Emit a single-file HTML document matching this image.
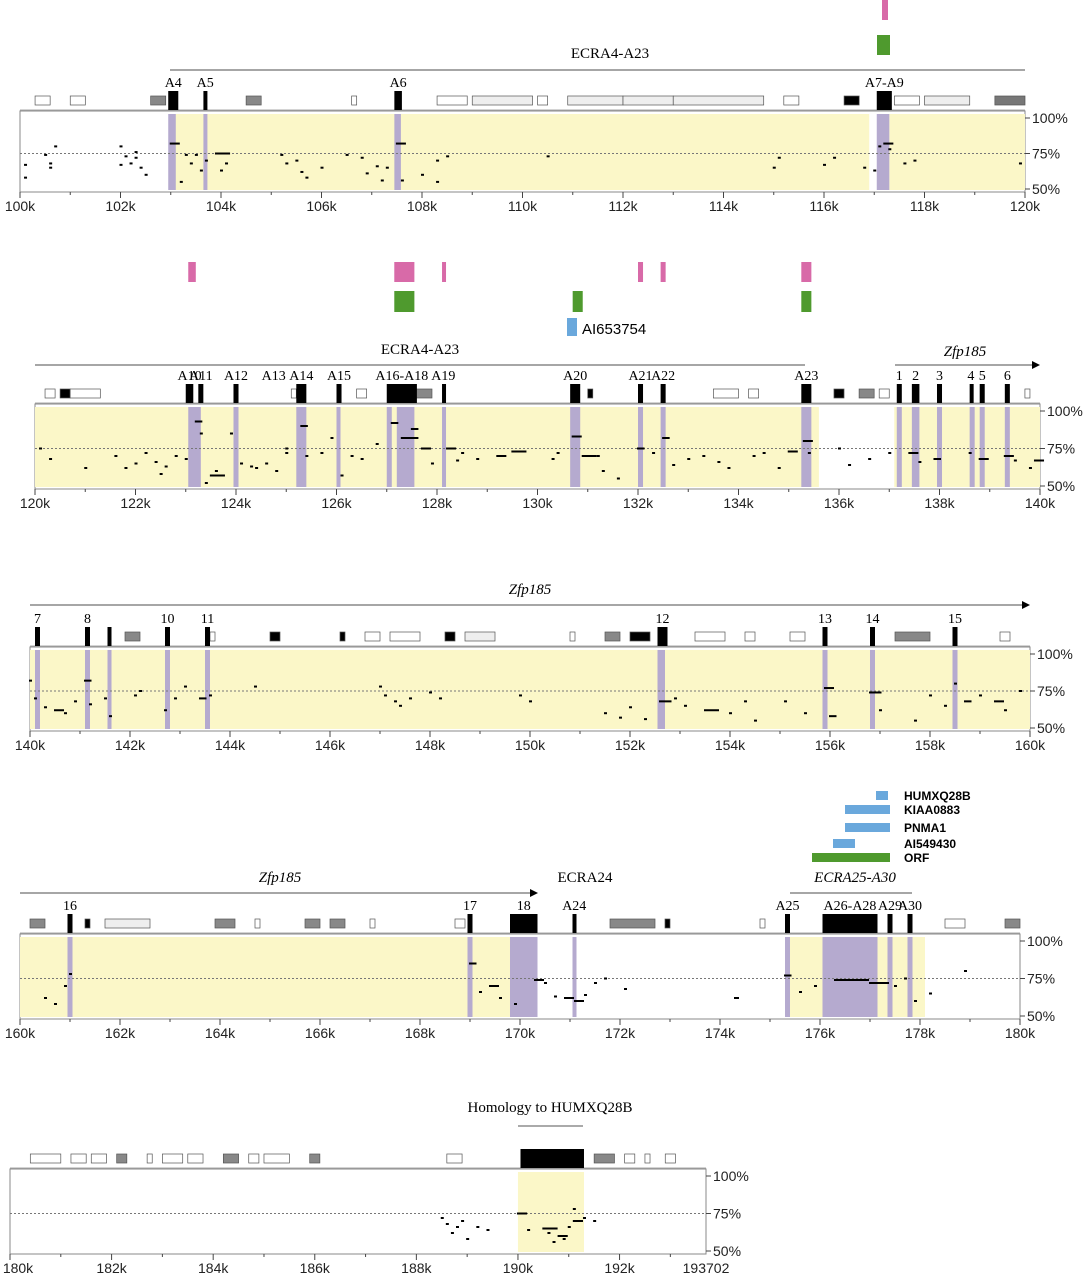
<!DOCTYPE html>
<html><head><meta charset="utf-8">
<style>
body{margin:0;background:#fff;}
svg text{font-family:"Liberation Sans",sans-serif;}
svg text.ser{font-family:"Liberation Serif",serif;}
</style></head>
<body>
<svg id="fig" width="1090" height="1280" viewBox="0 0 1090 1280" xmlns="http://www.w3.org/2000/svg">
<rect x="882" y="0" width="6" height="20" fill="#d86aa8"/>
<rect x="877" y="35" width="13" height="20" fill="#4f9a2e"/>
<text class="ser" x="610" y="58" font-size="15" text-anchor="middle">ECRA4-A23</text>
<line x1="170" y1="70" x2="1025" y2="70" stroke="#888" stroke-width="1.5"/>
<text x="582" y="334" font-size="15">AI653754</text>
<rect x="567" y="318" width="10" height="18" fill="#6aa8dc"/>
<text class="ser" x="420" y="354" font-size="15" text-anchor="middle">ECRA4-A23</text>
<line x1="35" y1="365" x2="805" y2="365" stroke="#888" stroke-width="1.5"/>
<text class="ser" x="965" y="356" font-size="15" font-style="italic" text-anchor="middle">Zfp185</text>
<line x1="895" y1="365" x2="1033" y2="365" stroke="#888" stroke-width="1.5"/>
<polygon points="1032,361 1040,365 1032,369" fill="#000"/>
<text class="ser" x="530" y="594" font-size="15" font-style="italic" text-anchor="middle">Zfp185</text>
<line x1="30" y1="605" x2="1023" y2="605" stroke="#888" stroke-width="1.5"/>
<polygon points="1022,601 1030,605 1022,609" fill="#000"/>
<g>
<rect x="876" y="791" width="12" height="9" fill="#6aa8dc"/>
<text x="904" y="800" font-size="12" font-weight="bold">HUMXQ28B</text>
<rect x="845" y="805" width="45" height="9" fill="#6aa8dc"/>
<text x="904" y="814" font-size="12" font-weight="bold">KIAA0883</text>
<rect x="845" y="823" width="45" height="9" fill="#6aa8dc"/>
<text x="904" y="832" font-size="12" font-weight="bold">PNMA1</text>
<rect x="833" y="839" width="22" height="9" fill="#6aa8dc"/>
<text x="904" y="848" font-size="12" font-weight="bold">AI549430</text>
<rect x="812" y="853" width="78" height="9" fill="#4f9a2e"/>
<text x="904" y="862" font-size="12" font-weight="bold">ORF</text>
</g>
<text class="ser" x="280" y="882" font-size="15" font-style="italic" text-anchor="middle">Zfp185</text>
<line x1="20" y1="893" x2="530" y2="893" stroke="#888" stroke-width="1.5"/>
<polygon points="530,889 538,893 530,897" fill="#000"/>
<text class="ser" x="585" y="882" font-size="15" text-anchor="middle">ECRA24</text>
<text class="ser" x="855" y="882" font-size="15" font-style="italic" text-anchor="middle">ECRA25-A30</text>
<line x1="790" y1="893" x2="912" y2="893" stroke="#888" stroke-width="1.5"/>
<text class="ser" x="550" y="1112" font-size="15" text-anchor="middle">Homology to HUMXQ28B</text>
<line x1="518" y1="1126" x2="583" y2="1126" stroke="#555" stroke-width="1"/>
<g id="panels"></g>
</svg>
<script>
const NS="http://www.w3.org/2000/svg";
const p1Start=100, p1End=120;
const p1Ticks=["100k","102k","104k","106k","108k","110k","112k","114k","116k","118k","120k"];
const p1Pos=[100.1,100.1,100.5,100.6,100.6,100.7,102.0,102.0,102.1,102.2,102.3,102.4,102.5,102.3,103.0,103.3,103.4,103.5,103.6,103.7,103.9,104.1,105.2,105.3,105.5,105.6,106.0,106.5,106.8,106.9,107.1,107.3,107.5,108.0,108.3,108.3,108.5,110.5,115.0,115.1,116.0,116.2,116.8,117.0,117.1,117.2,117.3,117.6,117.8,119.9,103.2,104.0,105.7,107.2,107.6];
const p1Pct=[67,58,74,65,68,80,67,80,73,68,72,65,60,76,82,74,68,74,63,70,75,68,74,68,70,62,65,74,72,61,66,65,82,60,55,70,73,73,65,72,67,72,65,63,80,82,78,68,70,68,55,63,58,56,56];
const p1Len=[0,0,0,0,0,0,0,0,0,0,0,0,0,0,0.2,0,0,0,0,0,0.3,0,0,0,0,0,0,0,0,0,0,0,0.2,0,0,0,0,0,0,0,0,0,0,0,0,0.2,0,0,0,0,0,0,0,0,0];
const p1Yellow=[[103,116.9],[117.3,120]];
const p1Purple=[[102.95,103.1],[103.65,103.72],[107.45,107.58],[117.05,117.3]];
const p1Exons=[["A4",102.95,103.15],["A5",103.65,103.72],["A6",107.45,107.6],["A7-A9",117.05,117.35]];
const p2Start=120, p2End=140;
const p2Ticks=["120k","122k","124k","126k","128k","130k","132k","134k","136k","138k","140k"];
const p2Pos=[120.1,120.3,121.6,121.8,122.0,122.2,122.4,122.5,122.6,122.8,123.0,123.2,123.3,123.5,123.6,123.9,124.1,124.3,124.4,124.6,124.8,125.0,125.3,125.4,125.7,125.9,126.1,126.3,126.5,127.1,127.3,127.5,127.7,127.9,128.2,128.5,128.8,129.2,129.5,130.3,130.4,130.7,130.9,131.2,131.6,132.0,132.3,132.5,132.7,133.0,133.3,133.6,134.5,134.8,135.0,135.3,135.4,136.0,136.2,136.6,137.0,137.4,137.6,137.9,138.6,138.8,139.3,139.5,139.8,139.9,121.0,123.4,125.0,126.8,128.4,131.3,133.8,134.3];
const p2Pct=[75,68,70,62,65,72,66,58,63,70,68,93,85,57,60,85,65,63,62,65,60,75,90,70,72,82,57,70,68,92,82,88,75,65,75,72,68,70,73,68,72,83,70,70,55,75,72,82,64,68,70,66,72,62,73,80,72,75,64,68,72,72,66,68,72,68,70,67,62,67,62,52,72,78,67,60,62,70];
const p2Len=[0,0,0,0,0,0,0,0,0,0,0,0.15,0,0.3,0,0,0,0,0,0,0,0,0.15,0,0,0,0,0,0,0.15,0.35,0.15,0.2,0,0.2,0,0,0.2,0.3,0,0,0.2,0.3,0,0,0.15,0,0.15,0,0,0,0,0,0,0.2,0.2,0,0,0,0,0,0.2,0,0.15,0,0.2,0.2,0,0,0.2,0,0,0,0,0,0,0,0];
const p2Yellow=[[120,135.6],[137.1,140]];
const p2Purple=[[123.05,123.3],[123.95,124.05],[125.2,125.4],[126.0,126.05],[127.0,127.1],[127.2,127.55],[128.1,128.15],[130.65,130.85],[132.0,132.1],[132.45,132.55],[135.25,135.45],[137.15,137.25],[137.45,137.6],[137.95,138.05],[138.6,138.7],[138.8,138.9],[139.3,139.4]];
const p2Exons=[["A10",123.0,123.15],["A11",123.25,123.35],["A12",123.95,124.05],["A13",null,124.75],["A14",125.2,125.4],["A15",126.0,126.1],["A16-A18",127.0,127.6],["A19",128.1,128.15],["A20",130.65,130.85],["A21",132.0,132.1],["A22",132.45,132.55],["A23",135.25,135.45],["1",137.15,137.25],["2",137.45,137.6],["3",137.95,138.05],["4",138.6,138.65],["5",138.8,138.9],["6",139.3,139.4]];
const p3Start=140, p3End=160;
const p3Ticks=["140k","142k","144k","146k","148k","150k","152k","154k","156k","158k","160k"];
const p3Pos=[140.0,140.1,140.3,140.5,140.7,140.9,141.1,141.2,141.5,141.6,142.1,142.2,142.7,142.9,143.1,143.4,143.6,144.5,147.0,147.1,147.3,147.4,147.6,148.0,148.2,149.8,150.0,151.5,151.8,152.0,152.3,152.6,152.9,153.1,153.5,154.0,154.3,154.5,155.1,155.5,155.9,156.0,156.8,157.0,157.7,158.0,158.3,158.5,158.7,159.0,159.3,159.5,159.8];
const p3Pct=[82,70,64,62,60,68,82,66,70,58,72,75,62,70,78,70,72,78,78,72,68,65,70,74,70,72,68,60,57,64,56,68,70,65,62,60,68,55,68,60,77,58,74,62,55,72,65,80,68,72,68,62,75];
const p3Len=[0,0,0,0.2,0,0,0.15,0,0,0,0,0,0,0,0,0.15,0,0,0,0,0,0,0,0,0,0,0,0,0,0,0,0.25,0,0,0.3,0,0,0,0,0,0.2,0.15,0.25,0,0,0,0,0,0.15,0,0.2,0,0];
const p3Yellow=[[140,160]];
const p3Purple=[[140.1,140.2],[141.1,141.2],[141.55,141.6],[142.7,142.8],[143.5,143.6],[152.55,152.7],[155.85,155.95],[156.8,156.9],[158.45,158.55]];
const p3Exons=[["7",140.1,140.2],["8",141.1,141.2],["",141.55,141.6],["10",142.7,142.8],["11",143.5,143.6],["12",152.55,152.75],["13",155.85,155.95],["14",156.8,156.9],["15",158.45,158.55]];
const p4Start=160, p4End=180;
const p4Ticks=["160k","162k","164k","166k","168k","170k","172k","174k","176k","178k","180k"];
const p4Pos=[160.5,160.7,160.9,161.0,169.0,169.2,169.4,169.6,169.9,170.3,170.5,170.7,170.9,171.1,171.3,171.5,171.7,172.1,174.3,175.3,175.6,175.9,176.3,176.6,177.0,177.5,177.7,177.9,178.2,178.9];
const p4Pct=[62,58,70,78,85,66,70,62,58,74,72,63,62,60,64,72,75,68,62,77,66,70,74,74,72,70,75,60,65,80];
const p4Len=[0,0,0,0,0.15,0,0.2,0,0,0.2,0,0,0.2,0.2,0,0,0,0,0.1,0.15,0,0,0.5,0.4,0.4,0,0,0,0,0];
const p4Yellow=[[160,170.3],[175.3,178.1]];
const p4Purple=[[160.95,161.05],[168.95,169.05],[169.8,170.35],[171.05,171.12],[175.3,175.4],[176.05,177.15],[177.35,177.45],[177.75,177.85]];
const p4Exons=[["16",160.95,161.05],["17",168.95,169.05],["18",169.8,170.35],["A24",171.05,171.12],["A25",175.3,175.4],["A26-A28",176.05,177.15],["A29",177.35,177.45],["A30",177.75,177.85]];
const p5Start=180, p5End=193.702;
const p5TickVals=[180,182,184,186,188,190,192,193.702];
const p5Ticks=["180k","182k","184k","186k","188k","190k","192k","193702"];
const p5Pos=[188.5,188.6,188.7,188.8,188.9,189.0,189.2,189.4,190.0,190.2,190.5,190.6,190.8,190.9,191.0,191.1,191.3,191.5,191.1,190.7];
const p5Pct=[72,68,62,66,70,58,66,64,75,64,65,62,60,58,66,70,72,70,78,56];
const p5Len=[0,0,0,0,0,0,0,0,0.2,0,0.3,0,0.2,0,0,0.2,0,0,0,0];
const root=document.getElementById('panels');
function el(tag,a,parent){const e=document.createElementNS(NS,tag);for(const k in a)e.setAttribute(k,a[k]);(parent||root).appendChild(e);return e;}
function panel(cfg){
 const g=el('g',{});
 
 
 const X=k=>cfg.L+(k-cfg.s)/(cfg.e-cfg.s)*(cfg.R-cfg.L);
 const Y=p=>cfg.B-3-(p-50)/50*(cfg.B-cfg.T-10);
 const bg=el('rect',{x:cfg.L,y:cfg.T,width:cfg.R-cfg.L,height:cfg.B-cfg.T,fill:'#fff',stroke:'#888','stroke-width':1},g);
 
 
 cfg.yellow.forEach(r=>{const y=el('rect',{x:X(r[0]),y:cfg.T+3,width:X(r[1])-X(r[0]),height:cfg.B-cfg.T-5,fill:'#fbf7c8'},g);
  
  });
 cfg.purple.forEach(r=>{const w=Math.max(4,X(r[1])-X(r[0]));const p=el('rect',{x:X(r[0]),y:cfg.T+3,width:w,height:cfg.B-cfg.T-5,fill:'#b5aacf'},g);
  
  });
 const ln=el('line',{x1:cfg.L,x2:cfg.R,y1:Y(75),y2:Y(75),stroke:'#777','stroke-dasharray':'2,2','stroke-width':1},g);
 
 
 [[100,'100%'],[75,'75%'],[50,'50%']].forEach(t=>{
  el('line',{x1:cfg.R,x2:cfg.R+5,y1:Y(t[0]),y2:Y(t[0]),stroke:'#444'},g);
  const tx=el('text',{x:cfg.R+7,y:Y(t[0])+5,'font-size':14,fill:'#222'},g);tx.textContent=t[1];
  
  });
 cfg.pos.forEach((k,i)=>{const w=Math.max(3,(cfg.len[i]||0)/(cfg.e-cfg.s)*(cfg.R-cfg.L));
  const d=el('rect',{x:X(k)-1,y:Y(cfg.pct[i])-1,width:w,height:2,fill:'#000'},g);
  
  });
 for(let k=Math.ceil(cfg.s);k<=cfg.e;k++){el('line',{x1:X(k),x2:X(k),y1:cfg.B,y2:cfg.B+(k%2==0?6:3),stroke:'#444'},g);}
 const tv=cfg.tickVals||cfg.ticks.map((t,i)=>cfg.s+2*i);
 cfg.ticks.forEach((t,i)=>{const tx=el('text',{x:Math.max(18,X(tv[i])),y:cfg.B+19,'font-size':14,'text-anchor':'middle',fill:'#222'},g);tx.textContent=t;
  
  });
 const gy=cfg.T-11;
 el('line',{x1:cfg.L,x2:cfg.R,y1:cfg.T-1,y2:cfg.T-1,stroke:'#aaa'},g);
 (cfg.genes||[]).forEach(r=>{const s=el('rect',{x:X(r[0]),y:gy-4,width:Math.max(3,X(r[1])-X(r[0])),height:9,fill:r[2],stroke:'#555','stroke-width':0.7},g);
  
  });
 cfg.exons.forEach(r=>{
  if(r[1]!==null){const w=Math.max(4,X(r[2])-X(r[1]));const b=el('rect',{x:X(r[1]),y:cfg.T-20,width:w,height:19,fill:'#000'},g);
   
   }
  if(r[0]){const tx=el('text',{x:X(r[1]!==null?(r[1]+r[2])/2:r[2]),y:cfg.T-24,'font-size':14,'text-anchor':'middle','class':'ser'},g);tx.textContent=r[0];
   
   }
 });
}
panel({id:1,L:20,R:1025,T:111,B:192,s:p1Start,e:p1End,ticks:p1Ticks,pos:p1Pos,pct:p1Pct,len:p1Len,yellow:p1Yellow,purple:p1Purple,exons:p1Exons,
 genes:[[100.3,100.6,'#fff'],[101.0,101.3,'#fff'],[102.6,102.9,'#888'],[104.5,104.8,'#888'],[106.6,106.7,'#fff'],[108.3,108.9,'#fff'],[109.0,110.2,'#eee'],[110.3,110.5,'#fff'],[110.9,112.0,'#eee'],[112.0,113.0,'#eee'],[113.0,114.8,'#eee'],[115.2,115.5,'#fff'],[116.4,116.7,'#000'],[117.4,117.9,'#fff'],[118.0,118.9,'#eee'],[119.4,120.0,'#777']]});
panel({id:2,L:35,R:1040,T:404,B:489,s:p2Start,e:p2End,ticks:p2Ticks,pos:p2Pos,pct:p2Pct,len:p2Len,yellow:p2Yellow,purple:p2Purple,exons:p2Exons,
 genes:[[120.2,120.4,'#fff'],[120.5,120.7,'#000'],[120.7,121.3,'#fff'],[125.1,125.2,'#fff'],[126.4,126.6,'#fff'],[127.3,127.9,'#888'],[131.0,131.1,'#000'],[133.5,134.0,'#fff'],[134.2,134.4,'#fff'],[135.9,136.1,'#000'],[136.4,136.7,'#888'],[136.8,137.0,'#fff'],[139.7,139.8,'#fff']]});
panel({id:3,L:30,R:1030,T:647,B:731,s:p3Start,e:p3End,ticks:p3Ticks,pos:p3Pos,pct:p3Pct,len:p3Len,yellow:p3Yellow,purple:p3Purple,exons:p3Exons,
 genes:[[141.9,142.2,'#888'],[143.6,143.7,'#fff'],[144.8,145.0,'#000'],[146.2,146.3,'#000'],[146.7,147.0,'#fff'],[147.2,147.8,'#fff'],[148.3,148.5,'#000'],[148.7,149.3,'#eee'],[150.8,150.9,'#fff'],[151.5,151.8,'#888'],[152.0,152.4,'#000'],[153.3,153.9,'#fff'],[154.3,154.5,'#fff'],[155.2,155.5,'#fff'],[157.3,158.0,'#888'],[159.4,159.6,'#fff']]});
panel({id:4,L:20,R:1020,T:934,B:1019,s:p4Start,e:p4End,ticks:p4Ticks,pos:p4Pos,pct:p4Pct,len:p4Len,yellow:p4Yellow,purple:p4Purple,exons:p4Exons,
 genes:[[160.2,160.5,'#888'],[161.3,161.4,'#000'],[161.7,162.6,'#eee'],[163.9,164.3,'#888'],[164.7,164.8,'#fff'],[165.7,166.0,'#888'],[166.2,166.5,'#888'],[167.0,167.1,'#fff'],[168.7,168.9,'#fff'],[171.8,172.7,'#888'],[172.9,173.0,'#000'],[174.8,174.9,'#fff'],[178.5,178.9,'#fff'],[179.7,180.0,'#888']]});
panel({id:5,L:10,R:706,T:1169,B:1254,s:p5Start,e:p5End,ticks:p5Ticks,tickVals:p5TickVals,pos:p5Pos,pct:p5Pct,len:p5Len,yellow:[[190,191.3]],purple:[],exons:[["",190.05,191.3]],
 genes:[[180.4,181.0,'#fff'],[181.2,181.5,'#fff'],[181.6,181.9,'#fff'],[182.1,182.3,'#888'],[182.7,182.8,'#fff'],[183.0,183.4,'#fff'],[183.5,183.8,'#fff'],[184.2,184.5,'#888'],[184.7,184.9,'#fff'],[185.0,185.5,'#fff'],[185.9,186.1,'#888'],[188.6,188.9,'#fff'],[191.5,191.9,'#888'],[192.1,192.3,'#fff'],[192.5,192.6,'#fff'],[192.9,193.1,'#fff']]});
const p2Pink=[[123.05,123.2],[127.15,127.55],[128.1,128.15],[132.0,132.1],[132.45,132.55],[135.25,135.45]];
const p2Green=[[127.15,127.55],[130.7,130.9],[135.25,135.45]];
const X2=k=>35+(k-120)/20*1005;
p2Pink.forEach(r=>{const b=el('rect',{x:X2(r[0]),y:262,width:Math.max(4,X2(r[1])-X2(r[0])),height:20,fill:'#d86aa8'});
 
 });
p2Green.forEach(r=>{const b=el('rect',{x:X2(r[0]),y:291,width:Math.max(8,X2(r[1])-X2(r[0])),height:21,fill:'#4f9a2e'});
 
 });
</script>
</body></html>
